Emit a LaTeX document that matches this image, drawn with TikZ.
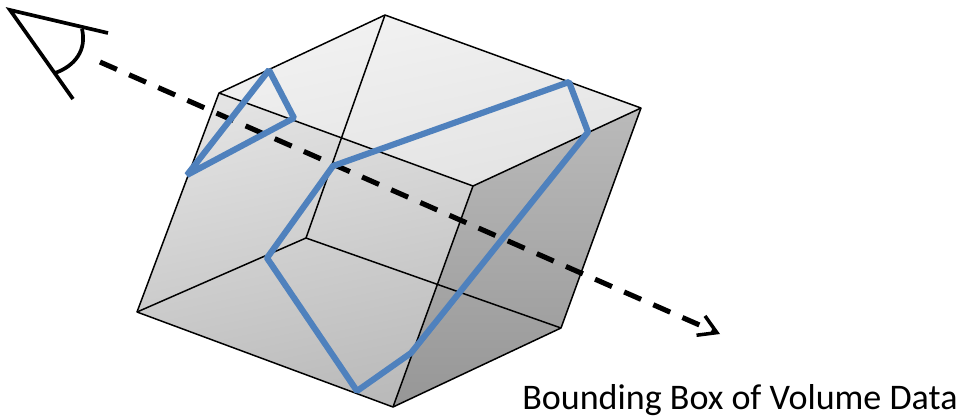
\documentclass[tikz,border=0pt]{standalone}
\usepackage{xcolor}
\usepackage{fontspec}
\setmainfont{Carlito}
\usetikzlibrary{arrows.meta}
\definecolor{sliceBlue}{RGB}{79,129,189}
\definecolor{boxEdge}{RGB}{0,0,0}
\tikzset{
  boxline/.style={boxEdge, line width=0.85pt, line join=round},
  sliceline/.style={sliceBlue, line width=3.5pt, line join=bevel},
  eyeline/.style={black, line width=2.1pt},
}
\begin{document}
\begin{tikzpicture}[x=0.02cm,y=-0.02cm]
\useasboundingbox (0,0) rectangle (961,417);
% corners of the box
\coordinate (backtop) at (385,15);
\coordinate (righttop) at (641,108);
\coordinate (fronttop) at (473,186);
\coordinate (lefttop) at (219,93);
\coordinate (leftbot) at (137,312);
\coordinate (frontbot) at (393,407);
\coordinate (rightbot) at (561,328);
\coordinate (backbot) at (306,238);
% faces
\shade[top color=black!5, bottom color=black!11, shading angle=12]
  (lefttop) -- (backtop) -- (righttop) -- (fronttop) -- cycle;
\shade[top color=black!11, bottom color=black!27, shading angle=12]
  (lefttop) -- (fronttop) -- (frontbot) -- (leftbot) -- cycle;
\shade[top color=black!27, bottom color=black!41, shading angle=0]
  (fronttop) -- (righttop) -- (rightbot) -- (frontbot) -- cycle;
% edges
\draw[boxline] (lefttop) -- (backtop) -- (righttop) -- (rightbot) -- (frontbot) -- (leftbot) -- cycle;
\draw[boxline] (lefttop) -- (fronttop) -- (righttop);
\draw[boxline] (fronttop) -- (frontbot);
\draw[boxline] (backtop) -- (backbot);
\draw[boxline] (leftbot) -- (backbot) -- (rightbot);
% eye
\coordinate (eyetip) at (10,10);
\coordinate (eyeup) at (108,33);
\coordinate (eyelow) at (73,99);
\draw[eyeline, line join=miter] (eyeup) -- (eyetip) -- (eyelow);
\draw[eyeline] (82,29) .. controls (87,50) and (75,66) .. (55,73);
% view ray
\coordinate (raystart) at (100,62);
\coordinate (rayend) at (720,334);
\draw[black, line width=2.9pt, dash pattern=on 10.5pt off 7.6pt, -{Straight Barb[length=10pt,width=12pt,line width=2pt]}]
  (raystart) -- (rayend);
% slice polygons
\draw[sliceline] (187,175) -- (269,70) -- (294,118) -- cycle;
\draw[sliceline] (333,166) -- (569,82) -- (588,132) -- (411,353) -- (357,391) -- (267,258) -- cycle;
\node[anchor=base west, inner sep=0pt, font=\fontsize{20.5}{24}\selectfont] (caption) at (522,409) {Bounding Box of Volume Data};
\end{tikzpicture}
\end{document}
